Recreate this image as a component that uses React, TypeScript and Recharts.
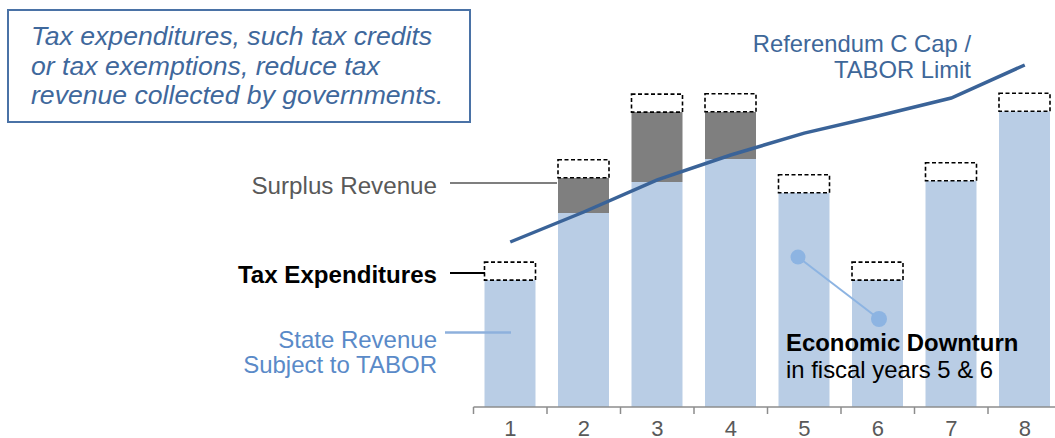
import React from 'react';
import {ComposedChart, Bar, Line, XAxis, YAxis} from 'recharts';

const years = ['1', '2', '3', '4', '5', '6', '7', '8'];
const stateRevenue = [42.3, 64.7, 75, 82.7, 71.4, 42.3, 75.4, 98.6];
const surplusRevenue = [0, 11.7, 23.3, 15.7, 0, 0, 0, 0];
const taxExpenditures = [6, 6, 6, 6, 6, 6, 6, 6];
const refCCap = [55, 65, 75.7, 84, 91.3, 97, 103, 114];

const chartData = years.map((year, i) => ({
    year,
    revenue: stateRevenue[i],
    surplus: surplusRevenue[i],
    taxExp: taxExpenditures[i],
    cap: refCCap[i],
}));

const FONT = '"Liberation Sans", Arial, sans-serif';

// excel style ticks: tick marks sit between categories
const YearTick = (props: any) => {
    const {x, y, payload} = props;
    const half = payload && payload.offset ? payload.offset : 36.75;
    return (
        <g>
            <line x1={x - half} y1={y} x2={x - half} y2={y + 7} stroke="#8c8c8c" strokeWidth={1.5}/>
            <text x={x} y={y + 28.5} textAnchor="middle" fontSize={22} fill="#595959" fontFamily={FONT}>
                {payload.value}
            </text>
        </g>
    );
};

const Notes = () => (
    <svg width={1055} height={438} style={{position: 'absolute', left: 0, top: 0, pointerEvents: 'none'}}
         fontFamily={FONT}>
        <rect x={8} y={10} width={462} height={112} fill="#fff" stroke="#4a72a6" strokeWidth={2}/>
        <g fontSize={26.6} fontStyle="italic" fill="#3f689c">
            <text x={31} y={45}>Tax expenditures, such tax credits</text>
            <text x={31} y={75}>or tax exemptions, reduce tax</text>
            <text x={31} y={104}>revenue collected by governments.</text>
        </g>

        <g fontSize={23.8} fill="#3e6799" textAnchor="end">
            <text x={971} y={52}>Referendum C Cap /</text>
            <text x={971} y={78}>TABOR Limit</text>
        </g>

        <line x1={450} y1={183} x2={557} y2={183} stroke="#7f7f7f" strokeWidth={2}/>
        <text x={437} y={194} textAnchor="end" fontSize={24.2} fill="#595959">Surplus Revenue</text>

        <line x1={450} y1={273} x2={485} y2={273} stroke="#000" strokeWidth={2}/>
        <text x={437} y={283} textAnchor="end" fontSize={24.1} fontWeight="bold" fill="#000">Tax Expenditures</text>

        <line x1={445} y1={332.5} x2={511} y2={332.5} stroke="#8eb0dc" strokeWidth={2.5}/>
        <g fontSize={24} fill="#5a8ac8" textAnchor="end">
            <text x={437} y={348}>State Revenue</text>
            <text x={437} y={373}>Subject to TABOR</text>
        </g>

        <line x1={798} y1={257} x2={879} y2={319} stroke="#8db4e2" strokeWidth={2}/>
        <circle cx={798} cy={257} r={7.5} fill="#8db4e2"/>
        <circle cx={879} cy={319} r={8} fill="#8db4e2"/>
        <text x={786} y={351} fontSize={23.9} fontWeight="bold" fill="#000">Economic Downturn</text>
        <text x={786} y={378} fontSize={23.9} fill="#000">in fiscal years 5 &amp; 6</text>
    </svg>
);

export default function App() {
    return (
        <div style={{position: 'absolute', left: 0, top: 0, width: 1055, height: 438, overflow: 'hidden', background: '#fff'}}>
            <ComposedChart width={1062} height={438} data={chartData} barSize={51}
                           margin={{top: 32, right: 0.5, bottom: 0, left: 473.5}}>
                <XAxis dataKey="year" height={31} tickSize={0} tickMargin={0} tickLine={false}
                       axisLine={{stroke: '#8c8c8c', strokeWidth: 1.5}} tick={<YearTick/>} interval={0}/>
                <YAxis hide width={0} domain={[0, 125]}/>
                <Bar dataKey="revenue" stackId="a" fill="#b9cde5" isAnimationActive={false}/>
                <Bar dataKey="surplus" stackId="a" fill="#7f7f7f" isAnimationActive={false}/>
                <Bar dataKey="taxExp" stackId="a" fill="#fff" stroke="#000" strokeWidth={1.6}
                     strokeDasharray="4 2.5" isAnimationActive={false}/>
                <Line dataKey="cap" type="linear" stroke="#3a6398" strokeWidth={3.5} dot={false}
                      activeDot={false} isAnimationActive={false}/>
            </ComposedChart>
            <Notes/>
        </div>
    );
}
